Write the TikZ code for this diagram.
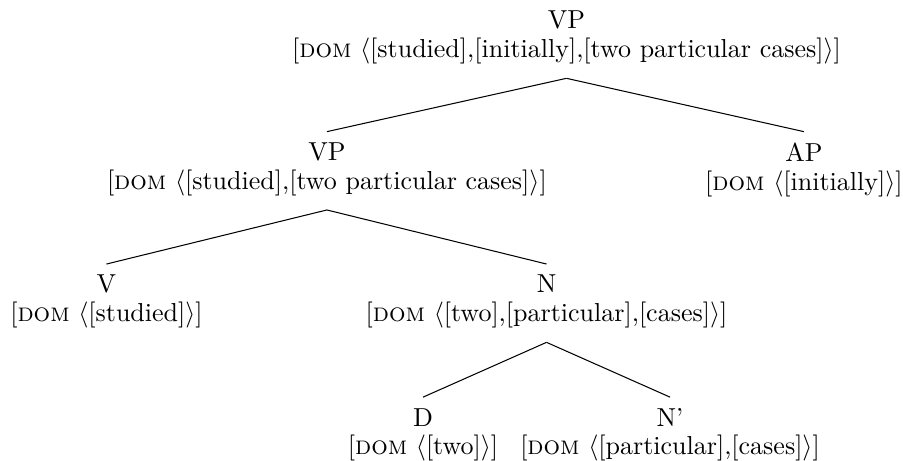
\documentclass[tikz,border=0pt]{standalone}
\newcommand{\feat}[1]{[\textsc{dom} $\langle$#1$\rangle$]}
\begin{document}
\begin{tikzpicture}[every node/.style={align=center,anchor=north,
    font=\fontsize{10}{11}\selectfont,inner ysep=4.1pt,text depth=3.7pt}]
      \useasboundingbox (0,0) rectangle (12.21,-6.23);
      \draw
        (7.66,0) node (vp){VP\\\feat{[studied],[initially],[two particular cases]}}
        (4.42,-1.78) node (vpb){VP\\\feat{[studied],[two particular cases]}}
        (10.87,-1.78) node (ap){AP\\\feat{[initially]}}
        (1.44,-3.57) node (v){V\\\feat{[studied]}}
        (7.39,-3.57) node (n){N\\\feat{[two],[particular],[cases]}}
        (5.72,-5.37) node (d){D\\\feat{[two]}}
        (9.06,-5.37) node (nbar){N'\\\feat{[particular],[cases]}};
      \begin{scope}[-]
        \draw (vp.south) to (vpb.north);
        \draw (vp.south) to (ap.north);
        \draw (vpb.south) to (v.north);
        \draw (vpb.south) to (n.north);
        \draw (n.south) to (d.north);
        \draw (n.south) to (nbar.north);
      \end{scope}
    \end{tikzpicture}
\end{document}
